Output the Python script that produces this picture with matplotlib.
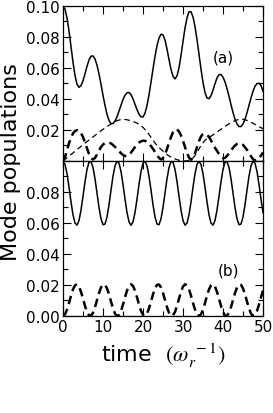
import numpy as np
import matplotlib
matplotlib.use("Agg")
import matplotlib.pyplot as plt
from matplotlib.ticker import MultipleLocator, FuncFormatter

# time grid (omega_r^-1), step 0.5
t = np.linspace(0, 50, 101)

# panel (a)
a_solid = [
    0.1000, 0.0980, 0.0923, 0.0838, 0.0738, 0.0637, 0.0552, 0.0495, 0.0475, 0.0486,
    0.0518, 0.0563, 0.0611, 0.0652, 0.0676, 0.0678, 0.0658, 0.0618, 0.0561, 0.0495,
    0.0424, 0.0358, 0.0301, 0.0261, 0.0241, 0.0242, 0.0258, 0.0285, 0.0322, 0.0360,
    0.0397, 0.0424, 0.0440, 0.0442, 0.0428, 0.0401, 0.0366, 0.0331, 0.0302, 0.0285,
    0.0284, 0.0309, 0.0358, 0.0427, 0.0508, 0.0594, 0.0675, 0.0744, 0.0793, 0.0818,
    0.0814, 0.0780, 0.0722, 0.0654, 0.0591, 0.0546, 0.0530, 0.0549, 0.0602, 0.0681,
    0.0771, 0.0857, 0.0924, 0.0963, 0.0963, 0.0929, 0.0867, 0.0783, 0.0688, 0.0592,
    0.0507, 0.0442, 0.0406, 0.0402, 0.0421, 0.0457, 0.0499, 0.0536, 0.0557, 0.0558,
    0.0541, 0.0510, 0.0467, 0.0417, 0.0363, 0.0313, 0.0270, 0.0239, 0.0222, 0.0222,
    0.0239, 0.0269, 0.0311, 0.0359, 0.0407, 0.0450, 0.0482, 0.0500, 0.0501, 0.0487,
    0.0450,
]
a_dash = [
    0.0000, 0.0025, 0.0070, 0.0115, 0.0150, 0.0178, 0.0193, 0.0199, 0.0196, 0.0180,
    0.0155, 0.0120, 0.0082, 0.0045, 0.0018, 0.0010, 0.0020, 0.0042, 0.0068, 0.0090,
    0.0106, 0.0116, 0.0120, 0.0119, 0.0113, 0.0103, 0.0091, 0.0078, 0.0064, 0.0050,
    0.0039, 0.0032, 0.0032, 0.0040, 0.0054, 0.0072, 0.0090, 0.0107, 0.0119, 0.0127,
    0.0131, 0.0130, 0.0124, 0.0112, 0.0096, 0.0078, 0.0058, 0.0038, 0.0020, 0.0010,
    0.0018, 0.0042, 0.0078, 0.0118, 0.0155, 0.0185, 0.0203, 0.0204, 0.0190, 0.0165,
    0.0130, 0.0090, 0.0052, 0.0022, 0.0008, 0.0020, 0.0050, 0.0090, 0.0128, 0.0158,
    0.0173, 0.0176, 0.0170, 0.0155, 0.0133, 0.0107, 0.0085, 0.0065, 0.0045, 0.0028,
    0.0018, 0.0020, 0.0033, 0.0050, 0.0068, 0.0085, 0.0100, 0.0110, 0.0114, 0.0113,
    0.0104, 0.0088, 0.0072, 0.0052, 0.0030, 0.0012, 0.0003, 0.0006, 0.0018, 0.0035,
    0.0055,
]
a_thin = [
    0.0000, 0.0010, 0.0021, 0.0031, 0.0042, 0.0052, 0.0063, 0.0073, 0.0084, 0.0094,
    0.0105, 0.0115, 0.0125, 0.0135, 0.0145, 0.0155, 0.0165, 0.0175, 0.0185, 0.0195,
    0.0204, 0.0213, 0.0222, 0.0231, 0.0239, 0.0247, 0.0254, 0.0260, 0.0264, 0.0267,
    0.0268, 0.0268, 0.0266, 0.0263, 0.0259, 0.0255, 0.0250, 0.0244, 0.0237, 0.0228,
    0.0217, 0.0203, 0.0188, 0.0171, 0.0153, 0.0134, 0.0116, 0.0100, 0.0087, 0.0075,
    0.0063, 0.0052, 0.0042, 0.0033, 0.0025, 0.0019, 0.0013, 0.0009, 0.0005, 0.0002,
    0.0000, 0.0000, 0.0001, 0.0004, 0.0010, 0.0020, 0.0035, 0.0055, 0.0078, 0.0100,
    0.0118, 0.0133, 0.0145, 0.0152, 0.0160, 0.0168, 0.0178, 0.0187, 0.0196, 0.0205,
    0.0214, 0.0223, 0.0232, 0.0240, 0.0247, 0.0254, 0.0260, 0.0265, 0.0268, 0.0270,
    0.0269, 0.0266, 0.0262, 0.0257, 0.0250, 0.0243, 0.0236, 0.0229, 0.0222, 0.0215,
    0.0208,
]

# panel (b)
b_solid = [
    0.1000, 0.0978, 0.0918, 0.0831, 0.0736, 0.0653, 0.0599, 0.0586, 0.0616, 0.0683,
    0.0773, 0.0867, 0.0946, 0.0992, 0.0996, 0.0958, 0.0885, 0.0793, 0.0700, 0.0627,
    0.0589, 0.0593, 0.0639, 0.0718, 0.0812, 0.0902, 0.0969, 0.0999, 0.0986, 0.0932,
    0.0849, 0.0754, 0.0668, 0.0607, 0.0585, 0.0607, 0.0668, 0.0754, 0.0849, 0.0932,
    0.0986, 0.0999, 0.0969, 0.0902, 0.0812, 0.0718, 0.0639, 0.0593, 0.0589, 0.0627,
    0.0700, 0.0793, 0.0885, 0.0958, 0.0996, 0.0992, 0.0946, 0.0867, 0.0773, 0.0683,
    0.0616, 0.0586, 0.0599, 0.0653, 0.0736, 0.0831, 0.0918, 0.0978, 0.1000, 0.0978,
    0.0918, 0.0831, 0.0736, 0.0653, 0.0599, 0.0586, 0.0616, 0.0683, 0.0773, 0.0867,
    0.0946, 0.0992, 0.0996, 0.0958, 0.0885, 0.0793, 0.0700, 0.0627, 0.0589, 0.0593,
    0.0639, 0.0718, 0.0812, 0.0902, 0.0969, 0.0999, 0.0986, 0.0932, 0.0849, 0.0754,
    0.0668,
]
b_dash = [
    0.0000, 0.0011, 0.0041, 0.0084, 0.0131, 0.0172, 0.0198, 0.0205, 0.0190, 0.0156,
    0.0112, 0.0065, 0.0027, 0.0004, 0.0002, 0.0021, 0.0057, 0.0103, 0.0148, 0.0184,
    0.0203, 0.0201, 0.0178, 0.0140, 0.0093, 0.0049, 0.0015, 0.0000, 0.0007, 0.0033,
    0.0074, 0.0121, 0.0164, 0.0194, 0.0205, 0.0194, 0.0164, 0.0121, 0.0074, 0.0033,
    0.0007, 0.0000, 0.0015, 0.0049, 0.0093, 0.0140, 0.0178, 0.0201, 0.0203, 0.0184,
    0.0148, 0.0103, 0.0057, 0.0021, 0.0002, 0.0004, 0.0027, 0.0065, 0.0112, 0.0156,
    0.0190, 0.0205, 0.0198, 0.0172, 0.0131, 0.0084, 0.0041, 0.0011, 0.0000, 0.0011,
    0.0041, 0.0084, 0.0131, 0.0172, 0.0198, 0.0205, 0.0190, 0.0156, 0.0112, 0.0065,
    0.0027, 0.0004, 0.0002, 0.0021, 0.0057, 0.0103, 0.0148, 0.0184, 0.0203, 0.0201,
    0.0178, 0.0140, 0.0093, 0.0049, 0.0015, 0.0000, 0.0007, 0.0033, 0.0074, 0.0121,
    0.0164,
]
b_thin = [0.0] * 101

panel_labels = ["(a)", "(b)"]


def style_axis(ax, hide_value):
    ax.set_xlim(0, 50)
    ax.set_ylim(0, 0.1)
    ax.xaxis.set_major_locator(MultipleLocator(10))
    ax.xaxis.set_minor_locator(MultipleLocator(5))
    ax.yaxis.set_major_locator(MultipleLocator(0.02))
    ax.yaxis.set_minor_locator(MultipleLocator(0.01))
    ax.yaxis.set_major_formatter(
        FuncFormatter(lambda v, p: "" if abs(v - hide_value) < 1e-9 else f"{v:.2f}"))
    ax.tick_params(which="both", direction="in", top=True, right=True,
                   labelsize=11, width=0.8, pad=2)
    ax.tick_params(which="major", length=6)
    ax.tick_params(which="minor", length=3.5)
    for s in ax.spines.values():
        s.set_linewidth(0.9)


def main() -> None:
    plt.rcParams["mathtext.fontset"] = "stix"
    fig = plt.figure(figsize=(2.73, 4.14), dpi=100)
    ax1 = fig.add_axes([0.2308, 0.6087, 0.7326, 0.3744])
    ax2 = fig.add_axes([0.2308, 0.2343, 0.7326, 0.3744])

    ax1.plot(t, a_solid, color="black", lw=1.1)
    ax1.plot(t, a_dash, color="black", lw=1.8, dashes=(3.4, 2.0))
    ax1.plot(t, a_thin, color="black", lw=0.9, dashes=(4.5, 3))

    ax2.plot(t, b_solid, color="black", lw=1.1)
    ax2.plot(t, b_dash, color="black", lw=1.8, dashes=(3.4, 2.0))
    ax2.plot(t, b_thin, color="0.5", lw=0.9, dashes=(4.5, 3))

    style_axis(ax1, 0.0)
    style_axis(ax2, 0.10)
    ax1.tick_params(labelbottom=False)

    ax1.text(40.2, 0.0668, panel_labels[0], fontsize=11, ha="center", va="center")
    ax2.text(41.3, 0.0294, panel_labels[1], fontsize=11, ha="center", va="center")

    ax2.set_xlabel(r"time  $(\omega_r^{\ -1})$", fontsize=16, labelpad=5)
    fig.text(0.04, 0.608, "Mode populations", rotation=90, fontsize=16,
             ha="center", va="center")

    fig.savefig("out.png", dpi=100)
    plt.close(fig)


if __name__ == "__main__":
    main()
